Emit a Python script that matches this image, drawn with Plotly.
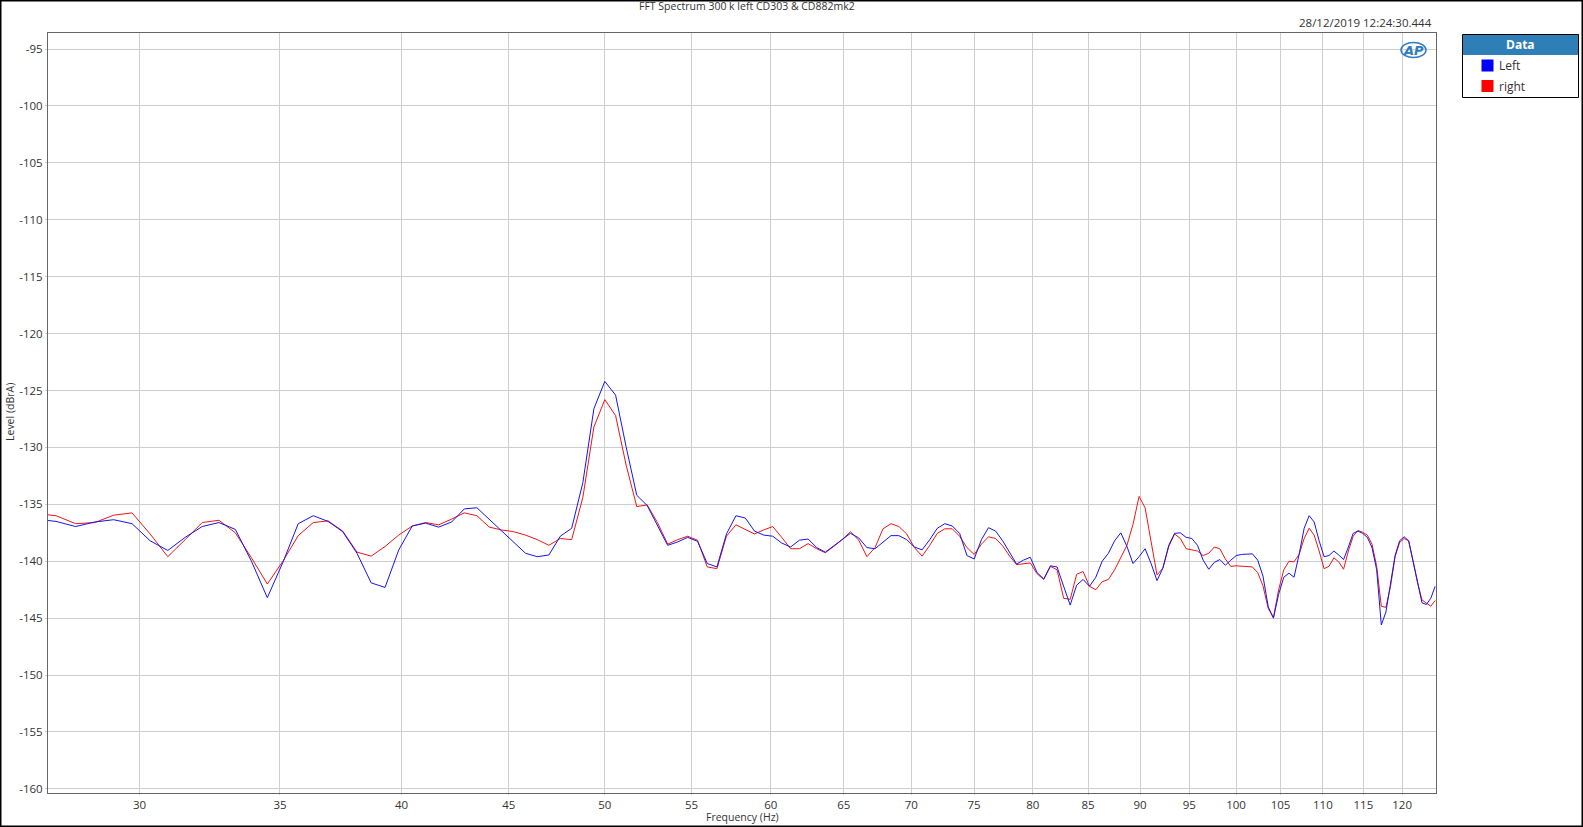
import math
import plotly.graph_objects as go

# ---------------- data ----------------
freq_hz = [
    26.776, 27.371, 27.967, 28.562, 29.158, 29.753, 30.349, 30.944, 31.540, 32.135,
    32.731, 33.326, 33.922, 34.517, 35.113, 35.708, 36.304, 36.899, 37.495, 38.090,
    38.686, 39.281, 39.877, 40.472, 41.068, 41.663, 42.259, 42.854, 43.450, 44.045,
    44.641, 45.236, 45.832, 46.427, 47.023, 47.618, 48.214, 48.809, 49.405, 50.000,
    50.596, 51.191, 51.787, 52.382, 52.978, 53.573, 54.169, 54.764, 55.360, 55.955,
    56.551, 57.146, 57.742, 58.337, 58.933, 59.528, 60.124, 60.719, 61.315, 61.910,
    62.506, 63.101, 63.697, 64.292, 64.888, 65.483, 66.079, 66.674, 67.270, 67.865,
    68.461, 69.056, 69.652, 70.247, 70.843, 71.438, 72.034, 72.629, 73.225, 73.820,
    74.416, 75.011, 75.607, 76.202, 76.798, 77.393, 77.989, 78.584, 79.180, 79.775,
    80.371, 80.966, 81.562, 82.157, 82.753, 83.348, 83.944, 84.539, 85.135, 85.730,
    86.326, 86.921, 87.517, 88.112, 88.708, 89.303, 89.899, 90.494, 91.090, 91.685,
    92.281, 92.876, 93.472, 94.067, 94.663, 95.258, 95.854, 96.449, 97.045, 97.640,
    98.236, 98.831, 99.427, 100.022, 100.618, 101.213, 101.809, 102.404, 103.000, 103.595,
    104.191, 104.786, 105.382, 105.977, 106.573, 107.168, 107.764, 108.359, 108.955, 109.550,
    110.146, 110.741, 111.337, 111.932, 112.528, 113.123, 113.719, 114.314, 114.910, 115.505,
    116.101, 116.696, 117.292, 117.887, 118.483, 119.078, 119.674, 120.269, 120.865, 121.460,
    122.056, 122.651, 123.247, 123.842, 124.438,
]

left_dbra = [
    -136.3, -136.5, -136.95, -136.55, -136.35, -136.7, -138.2, -139.05, -137.9, -136.95,
    -136.6, -137.2, -140.0, -143.2, -140.1, -136.7, -136.0, -136.5, -137.4, -139.3,
    -141.9, -142.3, -139.0, -136.9, -136.65, -137.0, -136.55, -135.4, -135.3, -136.3,
    -137.3, -138.3, -139.3, -139.6, -139.45, -137.8, -137.1, -133.1, -126.6, -124.2,
    -125.4, -130.0, -134.2, -135.1, -136.85, -138.6, -138.3, -137.9, -138.25, -140.2,
    -140.5, -137.6, -136.0, -136.2, -137.35, -137.7, -137.8, -138.4, -138.75, -138.15,
    -138.05, -138.8, -139.2, -138.65, -138.15, -137.55, -137.95, -138.8, -138.9, -138.3,
    -137.75, -137.75, -138.1, -138.75, -139.0, -138.1, -137.1, -136.7, -136.9, -137.55,
    -139.5, -139.8, -138.1, -137.05, -137.35, -138.2, -139.25, -140.25, -139.9, -139.65,
    -141.0, -141.55, -140.4, -140.5, -142.2, -143.85, -142.1, -141.6, -142.2, -141.4,
    -140.0, -139.3, -138.2, -137.5, -138.7, -140.2, -139.6, -138.9, -140.2, -141.7,
    -140.6, -138.6, -137.55, -137.5, -137.9, -138.0, -138.6, -139.9, -140.7, -140.1,
    -139.85, -140.35, -139.9, -139.5, -139.4, -139.4, -139.35, -139.9, -141.3, -144.0,
    -145.0, -142.9, -141.4, -141.05, -141.4, -139.4, -137.1, -136.0, -136.55, -138.2,
    -139.6, -139.5, -139.1, -139.45, -139.85, -138.75, -137.55, -137.35, -137.55, -137.9,
    -138.8, -140.75, -145.6, -144.45, -142.05, -139.5, -138.2, -137.85, -138.2, -140.0,
    -141.9, -143.65, -143.8, -143.25, -142.2,
]

right_dbra = [
    -135.8, -136.0, -136.7, -136.6, -135.95, -135.75, -137.6, -139.6, -138.1, -136.6,
    -136.4, -137.5, -139.7, -142.0, -140.0, -137.75, -136.6, -136.45, -137.35, -139.2,
    -139.55, -138.7, -137.7, -136.9, -136.6, -136.8, -136.3, -135.75, -136.0, -137.0,
    -137.25, -137.4, -137.7, -138.1, -138.6, -138.0, -138.1, -134.4, -128.2, -125.8,
    -127.2, -131.6, -135.2, -135.05, -136.6, -138.5, -138.1, -137.8, -138.15, -140.5,
    -140.65, -137.8, -136.8, -137.2, -137.6, -137.25, -136.95, -137.9, -138.9, -138.9,
    -138.45, -138.9, -139.25, -138.7, -138.1, -137.4, -138.15, -139.6, -138.8, -137.15,
    -136.7, -136.95, -137.6, -138.8, -139.55, -138.6, -137.55, -137.15, -137.15, -137.8,
    -138.8, -139.4, -138.5, -137.85, -138.0, -138.65, -139.55, -140.3, -140.25, -140.15,
    -141.1, -141.6, -140.45, -140.75, -143.25, -143.35, -141.15, -140.9, -142.2, -142.5,
    -141.8, -141.6, -140.75, -139.7, -138.6, -136.75, -134.3, -135.3, -138.2, -141.2,
    -140.6, -138.7, -137.6, -138.0, -138.9, -139.0, -139.1, -139.5, -139.3, -138.75,
    -138.9, -139.8, -140.45, -140.4, -140.45, -140.45, -140.5, -141.0, -142.15, -144.15,
    -144.95, -142.5, -140.75, -140.0, -140.05, -139.4, -138.0, -137.1, -137.7, -139.1,
    -140.65, -140.45, -139.7, -140.05, -140.7, -139.1, -137.8, -137.3, -137.45, -137.7,
    -138.5, -140.45, -143.95, -144.05, -142.2, -139.6, -138.35, -138.0, -138.2, -140.0,
    -141.9, -143.4, -143.7, -143.95, -143.45,
]

x_tick_vals = [30, 35, 40, 45, 50, 55, 60, 65, 70, 75, 80, 85, 90, 95, 100, 105, 110, 115, 120]
y_tick_vals = [-95, -100, -105, -110, -115, -120, -125, -130, -135, -140, -145, -150, -155, -160]

series_names = ["Left", "right"]
series_colors = ["#1414F0", "#F01414"]

title_text = "FFT Spectrum 300 k left CD303 & CD882mk2"
timestamp_text = "28/12/2019 12:24:30.444"

# ---------------- layout geometry ----------------
W, H = 1583, 827
ML, MR, MT, MB = 48, 147, 33, 34
PW = W - ML - MR
PH = H - MT - MB


def px(x):
    return (x - ML) / PW


def py(y):
    return (H - MB - y) / PH


FONT = "Open Sans, Noto Sans, DejaVu Sans, sans-serif"
TXT = "#333333"

fig = go.Figure()
fig.add_trace(go.Scatter(x=freq_hz, y=right_dbra, mode="lines", name=series_names[1],
                         line=dict(color=series_colors[1], width=1), showlegend=False))
fig.add_trace(go.Scatter(x=freq_hz, y=left_dbra, mode="lines", name=series_names[0],
                         line=dict(color=series_colors[0], width=1), showlegend=False))

fig.update_layout(
    width=W, height=H,
    margin=dict(l=ML, r=MR, t=MT, b=MB, pad=0),
    paper_bgcolor="white", plot_bgcolor="white",
    font=dict(family=FONT, size=12, color=TXT),
    showlegend=False,
)

fig.update_xaxes(
    type="log", range=[math.log10(27.13), math.log10(124.55)],
    tickvals=x_tick_vals, ticktext=[str(v) for v in x_tick_vals],
    showgrid=True, gridcolor="#CDCDCD", gridwidth=1,
    showline=True, mirror=True, linecolor="#666666", linewidth=1,
    ticks="outside", ticklen=1, tickcolor="#CDCDCD",
    tickfont=dict(size=11.5, color=TXT), zeroline=False,
)
fig.update_yaxes(
    range=[-160.36, -93.59],
    tickvals=y_tick_vals, ticktext=[str(v) for v in y_tick_vals],
    showgrid=True, gridcolor="#CDCDCD", gridwidth=1,
    showline=True, mirror=True, linecolor="#666666", linewidth=1,
    ticks="outside", ticklen=2, tickcolor="#CDCDCD",
    tickfont=dict(size=11.5, color=TXT), zeroline=False,
)

ann = []
ann.append(dict(text=title_text, x=px(747), y=py(6), xref="paper", yref="paper",
                xanchor="center", yanchor="middle", showarrow=False,
                font=dict(size=10.5, color=TXT, family=FONT)))
ann.append(dict(text=timestamp_text, x=px(1434), y=py(22.5), xref="paper", yref="paper",
                xanchor="right", yanchor="middle", showarrow=False,
                font=dict(size=11.5, color=TXT, family=FONT)))
ann.append(dict(text="Level (dBrA)", x=px(10), y=py(412), xref="paper", yref="paper",
                xanchor="center", yanchor="middle", textangle=-90, showarrow=False,
                font=dict(size=10.5, color=TXT, family=FONT)))
ann.append(dict(text="Frequency (Hz)", x=px(742), y=py(817), xref="paper", yref="paper",
                xanchor="center", yanchor="middle", showarrow=False,
                font=dict(size=10.5, color=TXT, family=FONT)))
# AP logo
ann.append(dict(text="<b><i>AP</i></b>", x=px(1413), y=py(50), xref="paper", yref="paper",
                xanchor="center", yanchor="middle", showarrow=False,
                font=dict(size=13, color="#2F7DC0", family="DejaVu Sans")))
# legend box texts
ann.append(dict(text="<b>Data</b>", x=px(1520.7), y=py(44.5), xref="paper", yref="paper",
                xanchor="center", yanchor="middle", showarrow=False,
                font=dict(size=12, color="white", family=FONT)))
ann.append(dict(text=series_names[0], x=px(1497), y=py(65.5), xref="paper", yref="paper",
                xanchor="left", yanchor="middle", showarrow=False,
                font=dict(size=12, color=TXT, family=FONT)))
ann.append(dict(text=series_names[1], x=px(1497), y=py(86), xref="paper", yref="paper",
                xanchor="left", yanchor="middle", showarrow=False,
                font=dict(size=12, color=TXT, family=FONT)))

shapes = []
# outer frame
shapes.append(dict(type="rect", xref="paper", yref="paper",
                   x0=px(0.75), x1=px(W - 0.75), y0=py(H - 0.75), y1=py(0.75),
                   line=dict(color="black", width=1.5), fillcolor="rgba(0,0,0,0)", layer="above"))
# legend header
shapes.append(dict(type="rect", xref="paper", yref="paper",
                   x0=px(1462.5), x1=px(1578.5), y0=py(55), y1=py(34.5),
                   line=dict(width=0), fillcolor="#2E7EB8", layer="above"))
# legend frame
shapes.append(dict(type="rect", xref="paper", yref="paper",
                   x0=px(1462.5), x1=px(1578.5), y0=py(97.5), y1=py(34.5),
                   line=dict(color="black", width=1), fillcolor="rgba(0,0,0,0)", layer="above"))
# legend swatches
shapes.append(dict(type="rect", xref="paper", yref="paper",
                   x0=px(1481.5), x1=px(1493.5), y0=py(71.5), y1=py(59.5),
                   line=dict(width=0), fillcolor="#0000FF", layer="above"))
shapes.append(dict(type="rect", xref="paper", yref="paper",
                   x0=px(1481.5), x1=px(1493.5), y0=py(92), y1=py(80),
                   line=dict(width=0), fillcolor="#FF0000", layer="above"))
# AP logo ring
shapes.append(dict(type="circle", xref="paper", yref="paper",
                   x0=px(1401), x1=px(1426), y0=py(57.5), y1=py(42.5),
                   line=dict(color="#2F7DC0", width=1.5), fillcolor="rgba(0,0,0,0)", layer="above"))

fig.update_layout(annotations=ann, shapes=shapes)

fig.write_html(
    "out.html",
    config={"displayModeBar": False},
    post_script="document.body.style.margin='0px';document.body.style.overflow='hidden';",
)
